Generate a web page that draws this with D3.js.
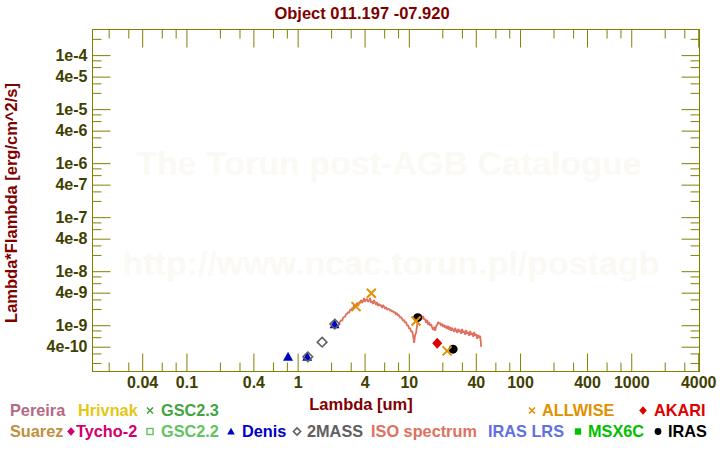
<!DOCTYPE html>
<html><head><meta charset="utf-8">
<script src="https://cdn.jsdelivr.net/npm/d3@7"></script>
<style>
body{margin:0;background:#fff}
svg{display:block}
text{font-family:"Liberation Sans",Arial,sans-serif;font-weight:bold}
</style>
</head><body>
<svg id="chart" width="720" height="450"></svg>
<script>
// ---------------- data ----------------
const chartTitle = "Object 011.197 -07.920";
const xTitle = "Lambda [um]";
const yTitle = "Lambda*Flambda [erg/cm^2/s]";
const xTickLabels = ["0.04","0.1","0.4","1","4","10","40","100","400","1000","4000"];
const yTickLabels = ["1e-4","4e-5","1e-5","4e-6","1e-6","4e-7","1e-7","4e-8","1e-8","4e-9","1e-9","4e-10"];
const minorMantissas = [2,3,6,8];
const decades = [-11,-10,-9,-8,-7,-6,-5,-4,-3,-2,-1,0,1,2,3];
const xDomain = [0.0143, 4110];
const yDomain = [1.39e-10, 2.98e-4];

const denisLambda = [0.82, 1.22, 2.15];
const denisFlux   = [2.62e-10, 2.60e-10, 1.04e-9];
const twomassLambda = [1.235, 1.66, 2.16];
const twomassFlux   = [2.60e-10, 4.85e-10, 1.05e-9];
const allwiseLambda = [3.35, 4.6, 11.6, 22.1];
const allwiseFlux   = [2.21e-9, 3.90e-9, 1.20e-9, 3.35e-10];
const akariLambda = [18.0];
const akariFlux   = [4.65e-10];
const irasLambda = [12.0, 25.0];
const irasFlux   = [1.38e-9, 3.60e-10];

// ISO SWS spectrum: wavelength (um) and lambda*F_lambda in units of 1e-10 erg/cm^2/s
const isoLambda = [2.359,2.408,2.46,2.51,2.56,2.616,2.67,2.727,2.78,2.842,2.90,2.962,3.02,3.087,3.15,3.219,3.29,3.355,3.42,3.497,
  3.57,3.645,3.72,3.799,3.88,3.96,4.04,4.128,4.21,4.302,4.39,4.484,4.58,4.674,4.77,4.872,4.97,5.078,5.18,5.293,
  5.40,5.517,5.63,5.751,5.87,5.994,6.12,6.248,6.38,6.512,6.65,6.788,6.93,7.075,7.22,7.375,7.53,7.687,7.85,8.012,
  8.18,8.351,8.52,8.705,8.89,9.073,9.26,9.457,9.65,9.856,10.06,10.27,10.49,10.71,10.93,11.16,11.39,11.63,11.88,12.13,
  12.38,12.64,12.90,13.17,13.45,13.73,14.02,14.31,14.61,14.92,15.23,15.55,15.88,16.21,16.55,16.89,17.25,17.61,17.98,18.35,
  18.74,19.13,19.53,19.94,20.36,20.79,21.22,21.66,22.12,22.58,23.06,23.54,24.03,24.53,25.05,25.57,26.11,26.65,27.21,27.78,
  28.37,28.96,29.57,30.18,30.82,31.46,32.12,32.79,33.48,34.18,34.90,35.62,36.37,37.13,37.91,38.70,39.52,40.34,41.19,42.05,
  42.93,43.83,44.75];
const isoFlux10 = [11.03,11.51,12.54,12.01,13.65,14.24,14.24,16.18,16.18,17.62,16.89,19.19,19.19,20.89,20.02,23.74,21.80,23.74,25.85,22.75,
  26.97,25.85,29.37,25.85,28.15,31.98,26.97,29.37,30.65,26.97,28.15,31.98,25.85,28.15,24.77,29.37,25.85,23.74,26.97,22.75,
  24.77,22.75,23.74,20.89,23.74,21.80,20.02,21.80,19.19,20.02,20.02,18.39,19.19,17.62,18.39,16.89,17.62,15.51,16.89,14.86,
  15.51,13.65,14.24,13.08,12.01,12.54,11.03,11.51,9.71,10.13,8.55,8.92,7.52,7.85,6.34,4.71,6.62,7.21,10.13,13.65,
  16.18,14.86,15.51,13.08,14.86,12.54,13.08,11.03,12.54,10.13,11.51,9.71,10.57,8.92,8.19,9.31,7.85,9.71,10.13,11.51,
  10.57,11.03,9.71,10.57,9.31,10.13,8.92,9.71,8.55,9.71,8.19,9.31,7.85,8.92,8.19,7.52,8.92,7.85,7.21,8.55,
  7.52,8.19,6.91,8.55,7.21,7.85,6.62,8.19,6.91,7.52,6.34,7.85,6.62,7.21,6.08,7.52,6.34,6.91,5.58,6.62,
  5.83,6.34,3.97];

const legendRow1 = ["Pereira","Hrivnak","GSC2.3","ALLWISE","AKARI"];
const legendRow2 = ["Suarez","Tycho-2","GSC2.2","Denis","2MASS","ISO spectrum","IRAS LRS","MSX6C","IRAS"];

// ---------------- layout ----------------
const L = 92.5, R = 699.5, T = 29.5, B = 371.5;
const olive = "#808000", tickText = "#404000", darkRed = "#800000";
const colors = {
  Pereira:"#b46a84", Hrivnak:"#e6c614", "GSC2.3":"#44a444", ALLWISE:"#e09000", AKARI:"#e00000",
  Suarez:"#c0903c", "Tycho-2":"#d00070", "GSC2.2":"#60c460", Denis:"#0000c8", "2MASS":"#606060",
  "ISO spectrum":"#e07060", "IRAS LRS":"#6070e0", MSX6C:"#00c000", IRAS:"#000000"
};

const svg = d3.select("#chart");
const x = d3.scaleLog().domain(xDomain).range([L, R]);
const y = d3.scaleLog().domain(yDomain).range([B, T]);

// watermark
svg.append("text").attr("x", 389).attr("y", 175).attr("text-anchor","middle")
  .attr("font-size", 34).attr("fill", "#fbf9f3").text("The Torun post-AGB Catalogue");
svg.append("text").attr("x", 391).attr("y", 275).attr("text-anchor","middle")
  .attr("font-size", 34).attr("fill", "#fbf9f3").text("http://www.ncac.torun.pl/postagb");

// ticks
const xMajor = xTickLabels.map(Number);
const yMajor = yTickLabels.map(Number);
const inDom = (v, dom) => v > dom[0]*1.0001 && v < dom[1]*0.9999;
const xMinor = decades.flatMap(d => minorMantissas.map(m => +(m*Math.pow(10,d)).toPrecision(3))).filter(v => inDom(v, xDomain));
const yMinor = decades.flatMap(d => minorMantissas.map(m => +(m*Math.pow(10,d)).toPrecision(3))).filter(v => inDom(v, yDomain));
const xLab = d => xTickLabels[xMajor.indexOf(d)];
const yLab = d => yTickLabels[yMajor.indexOf(d)];

function styleAxis(g){
  g.select(".domain").remove();
  g.selectAll("line").attr("stroke", olive);
  g.selectAll("text").attr("fill", tickText).attr("font-size", 16)
    .attr("font-family", "'Liberation Sans', Arial, sans-serif").attr("font-weight","bold");
}
svg.append("g").attr("transform",`translate(0,${B})`)
  .call(d3.axisBottom(x).tickValues(xMajor).tickFormat(xLab).tickSize(-18).tickPadding(5)).call(styleAxis);
svg.append("g").attr("transform",`translate(0,${B})`)
  .call(d3.axisBottom(x).tickValues(xMinor).tickFormat("").tickSize(-9)).call(styleAxis);
svg.append("g").attr("transform",`translate(0,${T})`)
  .call(d3.axisTop(x).tickValues(xMajor).tickFormat("").tickSize(-18)).call(styleAxis);
svg.append("g").attr("transform",`translate(0,${T})`)
  .call(d3.axisTop(x).tickValues(xMinor).tickFormat("").tickSize(-9)).call(styleAxis);
svg.append("g").attr("transform",`translate(${L},0)`)
  .call(d3.axisLeft(y).tickValues(yMajor).tickFormat(yLab).tickSize(-18).tickPadding(5)).call(styleAxis);
svg.append("g").attr("transform",`translate(${L},0)`)
  .call(d3.axisLeft(y).tickValues(yMinor).tickFormat("").tickSize(-9)).call(styleAxis);
svg.append("g").attr("transform",`translate(${R},0)`)
  .call(d3.axisRight(y).tickValues(yMajor).tickFormat("").tickSize(-18)).call(styleAxis);
svg.append("g").attr("transform",`translate(${R},0)`)
  .call(d3.axisRight(y).tickValues(yMinor).tickFormat("").tickSize(-9)).call(styleAxis);

svg.append("rect").attr("x", L).attr("y", T).attr("width", R-L).attr("height", B-T)
  .attr("fill","none").attr("stroke", olive).attr("stroke-width", 1);

// titles
svg.append("text").attr("x", 362).attr("y", 19).attr("text-anchor","middle")
  .attr("font-size", 16.5).attr("fill", darkRed).text(chartTitle);
svg.append("text").attr("x", 361).attr("y", 410).attr("text-anchor","middle")
  .attr("font-size", 16.5).attr("fill", darkRed).text(xTitle);
svg.append("text").attr("transform","translate(17,203) rotate(-90)").attr("text-anchor","middle")
  .attr("font-size", 16.5).attr("fill", darkRed).text(yTitle);

// marker helper
function marker(g, type, cx, cy, s, color){
  if(type==="x"){
    g.append("path").attr("d",`M${cx-s},${cy-s}L${cx+s},${cy+s}M${cx-s},${cy+s}L${cx+s},${cy-s}`)
      .attr("stroke", color).attr("stroke-width", s>3?2:1.6).attr("fill","none");
  } else if(type==="tri"){
    g.append("path").attr("d",`M${cx},${cy-s}L${cx+s},${cy+s*0.8}L${cx-s},${cy+s*0.8}Z`).attr("fill", color);
  } else if(type==="diamond"){
    g.append("path").attr("d",`M${cx},${cy-s*1.1}L${cx+s},${cy}L${cx},${cy+s*1.1}L${cx-s},${cy}Z`).attr("fill", color);
  } else if(type==="odiamond"){
    g.append("path").attr("d",`M${cx},${cy-s}L${cx+s},${cy}L${cx},${cy+s}L${cx-s},${cy}Z`)
      .attr("fill","none").attr("stroke", color).attr("stroke-width", 1.6);
  } else if(type==="circle"){
    g.append("circle").attr("cx",cx).attr("cy",cy).attr("r",s).attr("fill",color);
  } else if(type==="square"){
    g.append("rect").attr("x",cx-s).attr("y",cy-s).attr("width",2*s).attr("height",2*s).attr("fill",color);
  } else if(type==="osquare"){
    g.append("rect").attr("x",cx-s).attr("y",cy-s).attr("width",2*s).attr("height",2*s)
      .attr("fill","none").attr("stroke",color).attr("stroke-width",1.4);
  }
}

// ISO spectrum
const iso = isoLambda.map((l,i)=>[l, isoFlux10[i]*1e-10]);
svg.append("path").datum(iso)
  .attr("d", d3.line().x(d=>x(d[0])).y(d=>y(d[1])))
  .attr("fill","none").attr("stroke", colors["ISO spectrum"]).attr("stroke-width", 1.8)
  .attr("stroke-linejoin","bevel");

const pts = svg.append("g");
denisLambda.forEach((l,i)=>marker(pts,"tri", x(l), y(denisFlux[i]), 5, colors.Denis));
twomassLambda.forEach((l,i)=>marker(pts,"odiamond", x(l), y(twomassFlux[i]), 4.8, colors["2MASS"]));
akariLambda.forEach((l,i)=>marker(pts,"diamond", x(l), y(akariFlux[i]), 5, colors.AKARI));
irasLambda.forEach((l,i)=>marker(pts,"circle", x(l), y(irasFlux[i]), 4.5, colors.IRAS));
allwiseLambda.forEach((l,i)=>marker(pts,"x", x(l), y(allwiseFlux[i]), 4.5, colors.ALLWISE));

// legend
const leg = svg.append("g").attr("font-size", 16.3);
const row1Y = 416, row2Y = 437;
const legendSpec1 = {Pereira:{x:10}, Hrivnak:{x:78}, "GSC2.3":{x:161, sym:"x", sx:150}, ALLWISE:{x:542, sym:"x", sx:532}, AKARI:{x:654, sym:"diamond", sx:643}};
const legendSpec2 = {Suarez:{x:10}, "Tycho-2":{x:76, sym:"diamond", sx:71}, "GSC2.2":{x:161, sym:"osquare", sx:150},
  Denis:{x:242, sym:"tri", sx:231}, "2MASS":{x:307, sym:"odiamond", sx:297}, "ISO spectrum":{x:371},
  "IRAS LRS":{x:488}, MSX6C:{x:588, sym:"square", sx:578}, IRAS:{x:668, sym:"circle", sx:658}};
function drawLegend(names, spec, ty){
  names.forEach(n=>{
    const s = spec[n];
    leg.append("text").attr("x", s.x).attr("y", ty).attr("fill", colors[n]).text(n);
    if(s.sym){
      const sz = {x:3, diamond:3.8, osquare:3, tri:3.8, odiamond:3.6, square:3.2, circle:3.4}[s.sym];
      marker(leg, s.sym, s.sx, ty-5.5, sz, colors[n]);
    }
  });
}
drawLegend(legendRow1, legendSpec1, row1Y);
drawLegend(legendRow2, legendSpec2, row2Y);
</script>
</body></html>
